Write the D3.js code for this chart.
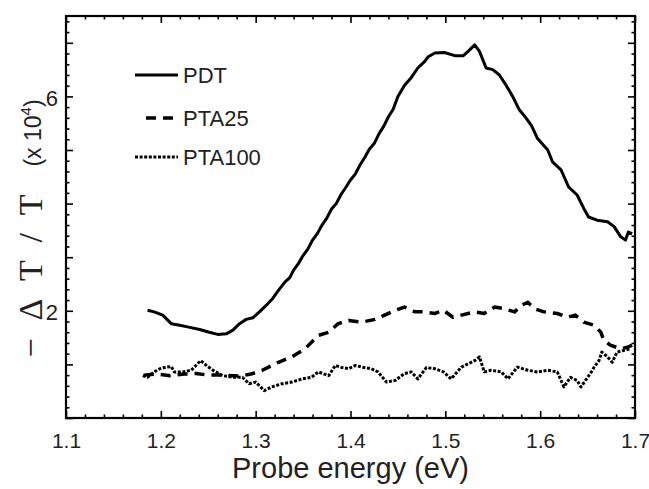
<!DOCTYPE html>
<html><head><meta charset="utf-8">
<script src="https://cdn.jsdelivr.net/npm/d3@7"></script>
<style>body{margin:0;background:#fff}svg{display:block}</style>
</head><body><svg id="c" width="649" height="489"></svg>
<script>
// ---- data (x: probe energy eV, y: -ΔT/T ×10^4) ----
const pdtE = [1.186,1.193,1.202,1.211,1.220,1.228,1.241,1.251,1.260,1.269,1.276,1.283,1.290,1.297,1.304,1.311,1.318,1.324,1.331,1.336,1.340,1.345,1.350,1.355,1.360,1.365,1.370,1.375,1.380,1.385,1.390,1.395,1.400,1.405,1.410,1.415,1.420,1.425,1.430,1.435,1.440,1.445,1.450,1.457,1.464,1.471,1.478,1.482,1.489,1.499,1.510,1.519,1.524,1.531,1.536,1.543,1.550,1.557,1.564,1.571,1.578,1.585,1.591,1.597,1.608,1.613,1.622,1.630,1.639,1.646,1.651,1.660,1.671,1.678,1.685,1.690,1.693,1.697];
const pdtV = [2.01,1.98,1.92,1.76,1.73,1.70,1.65,1.60,1.56,1.57,1.64,1.76,1.84,1.87,1.98,2.10,2.23,2.38,2.54,2.62,2.76,2.88,3.03,3.15,3.32,3.44,3.60,3.73,3.90,4.00,4.17,4.30,4.44,4.55,4.72,4.86,5.02,5.12,5.30,5.44,5.62,5.76,6.00,6.21,6.35,6.53,6.65,6.74,6.81,6.82,6.76,6.76,6.84,6.96,6.84,6.53,6.50,6.40,6.21,6.00,5.75,5.60,5.45,5.22,5.00,4.78,4.63,4.31,4.16,3.91,3.75,3.69,3.66,3.57,3.38,3.32,3.47,3.44];

const pta25E = [1.182,1.195,1.210,1.225,1.237,1.250,1.265,1.283,1.295,1.307,1.324,1.338,1.352,1.366,1.377,1.387,1.398,1.412,1.426,1.436,1.447,1.457,1.468,1.478,1.489,1.498,1.508,1.517,1.531,1.541,1.552,1.562,1.573,1.580,1.587,1.594,1.604,1.618,1.629,1.637,1.646,1.657,1.664,1.667,1.674,1.685,1.692,1.697];
const pta25V = [0.80,0.82,0.79,0.82,0.83,0.80,0.80,0.78,0.82,0.89,1.04,1.14,1.29,1.54,1.60,1.76,1.82,1.79,1.84,1.92,2.01,2.07,1.98,1.98,1.95,2.01,1.88,1.92,1.98,1.95,2.07,2.04,1.98,2.10,2.16,2.04,1.98,1.95,1.88,1.92,1.79,1.73,1.60,1.45,1.36,1.29,1.32,1.36];

const pta100E = [1.181,1.186,1.193,1.199,1.206,1.211,1.214,1.223,1.232,1.242,1.248,1.255,1.265,1.276,1.286,1.293,1.300,1.309,1.317,1.328,1.338,1.349,1.359,1.366,1.377,1.384,1.391,1.398,1.405,1.412,1.422,1.429,1.438,1.447,1.457,1.464,1.471,1.480,1.489,1.498,1.506,1.517,1.524,1.531,1.536,1.541,1.548,1.559,1.566,1.576,1.587,1.597,1.608,1.618,1.622,1.625,1.632,1.639,1.643,1.650,1.653,1.657,1.662,1.665,1.671,1.676,1.681,1.688,1.695];
const pta100V = [0.79,0.76,0.86,0.92,0.95,0.96,0.86,0.86,0.89,1.07,0.98,0.89,0.79,0.76,0.76,0.64,0.67,0.51,0.58,0.64,0.67,0.73,0.76,0.86,0.79,0.98,0.94,0.92,0.98,0.95,0.92,0.86,0.67,0.70,0.83,0.86,0.73,0.94,0.92,0.86,0.73,0.95,1.01,1.07,1.14,0.86,0.89,0.86,0.73,0.95,0.89,0.86,0.89,0.86,0.70,0.58,0.76,0.70,0.58,0.76,0.83,0.95,1.07,1.23,1.14,1.04,1.23,1.26,1.29];

const seriesNames = ["PDT","PTA25","PTA100"];
const xTickLabels = ["1.1","1.2","1.3","1.4","1.5","1.6","1.7"];
const yTickLabels = ["2","6"];

// ---- layout ----
const L = 66, R = 635, T = 16, B = 418;
const svg = d3.select("#c");
const x = d3.scaleLinear().domain([1.1, 1.7]).range([L, R]);
const y = d3.scaleLinear().domain([0, 7.5]).range([B, T]);

const font = "'Liberation Sans', Arial, sans-serif";
const xMaj = xTickLabels.map(Number);
const xMin = d3.range(0, 31).map(i => 1.1 + i * 0.02).filter(v => !xMaj.some(m => Math.abs(m - v) < 1e-6));
const yMaj = d3.range(0, 8);
const yMin = d3.range(0, 38).map(i => i * 0.2).filter(v => Math.abs(v - Math.round(v)) > 1e-6);

function styleAxis(g) {
  g.select(".domain").remove();
  g.selectAll(".tick line").attr("stroke", "#000").attr("stroke-width", 1.6);
}
// bottom
svg.append("g").attr("transform", `translate(0,${B})`)
  .call(d3.axisBottom(x).tickValues(xMaj).tickSize(-7).tickPadding(15).tickFormat(d3.format(".1f")))
  .call(styleAxis)
  .call(g => g.selectAll("text").attr("font-family", font).attr("font-size", 21).attr("fill", "#222"));
svg.append("g").attr("transform", `translate(0,${B})`)
  .call(d3.axisBottom(x).tickValues(xMin).tickSize(-3.5).tickFormat(""))
  .call(styleAxis);
// top
svg.append("g").attr("transform", `translate(0,${T})`)
  .call(d3.axisTop(x).tickValues(xMaj).tickSize(-7).tickFormat("")).call(styleAxis);
svg.append("g").attr("transform", `translate(0,${T})`)
  .call(d3.axisTop(x).tickValues(xMin).tickSize(-3.5).tickFormat("")).call(styleAxis);
// left
svg.append("g").attr("transform", `translate(${L},0)`)
  .call(d3.axisLeft(y).tickValues(yMaj).tickSize(-7).tickPadding(8)
    .tickFormat(d => yTickLabels.includes(String(d)) ? String(d) : ""))
  .call(styleAxis)
  .call(g => g.selectAll("text").attr("font-family", font).attr("font-size", 22).attr("fill", "#222").attr("dy", "0.4em"));
svg.append("g").attr("transform", `translate(${L},0)`)
  .call(d3.axisLeft(y).tickValues(yMin).tickSize(-3.5).tickFormat("")).call(styleAxis);
// right
svg.append("g").attr("transform", `translate(${R},0)`)
  .call(d3.axisRight(y).tickValues(yMaj).tickSize(-7).tickFormat("")).call(styleAxis);
svg.append("g").attr("transform", `translate(${R},0)`)
  .call(d3.axisRight(y).tickValues(yMin).tickSize(-3.5).tickFormat("")).call(styleAxis);

// frame
svg.append("rect").attr("x", L).attr("y", T).attr("width", R - L).attr("height", B - T)
  .attr("fill", "none").attr("stroke", "#000").attr("stroke-width", 2.2);

// curves
const line = d3.line().x(d => x(d[0])).y(d => y(d[1]));
const styles = [
  {w: 3, dash: null},
  {w: 3.5, dash: "10,7"},
  {w: 3, dash: "3,1.6"}
];
const data = [d3.zip(pdtE, pdtV), d3.zip(pta25E, pta25V), d3.zip(pta100E, pta100V)];
data.forEach((d, i) => {
  svg.append("path").datum(d).attr("d", line).attr("fill", "none").attr("stroke", "#000")
    .attr("stroke-width", styles[i].w).attr("stroke-linejoin", "round")
    .attr("stroke-dasharray", styles[i].dash);
});

// legend
const legY = [75, 118, 157];
const legX0 = [135, 146, 135];
seriesNames.forEach((n, i) => {
  svg.append("line").attr("x1", legX0[i]).attr("x2", 178).attr("y1", legY[i]).attr("y2", legY[i])
    .attr("stroke", "#000").attr("stroke-width", styles[i].w).attr("stroke-dasharray", styles[i].dash);
  svg.append("text").attr("x", 183).attr("y", legY[i]).attr("dy", "0.36em")
    .attr("font-family", font).attr("font-size", 22).attr("fill", "#222").text(n);
});

// axis titles
svg.append("text").attr("x", x(1.4)).attr("y", 478).attr("text-anchor", "middle")
  .attr("font-family", font).attr("font-size", 29).attr("fill", "#222").text("Probe energy (eV)");

svg.append("text").attr("transform", "translate(42,276) rotate(-90)").attr("text-anchor", "middle")
  .attr("font-family", "'Liberation Serif', 'Times New Roman', serif").attr("font-size", 34).attr("fill", "#222")
  .attr("textLength", 163).attr("lengthAdjust", "spacing").text("\u2212\u0394T/T");

const t2 = svg.append("text").attr("transform", "translate(41,133) rotate(-90)").attr("text-anchor", "middle")
  .attr("font-family", font).attr("font-size", 23).attr("fill", "#222");
t2.append("tspan").text("(x 10");
t2.append("tspan").attr("font-size", 15).attr("dy", -10).text("4");
t2.append("tspan").attr("dy", 10).text(")");
</script></body></html>
